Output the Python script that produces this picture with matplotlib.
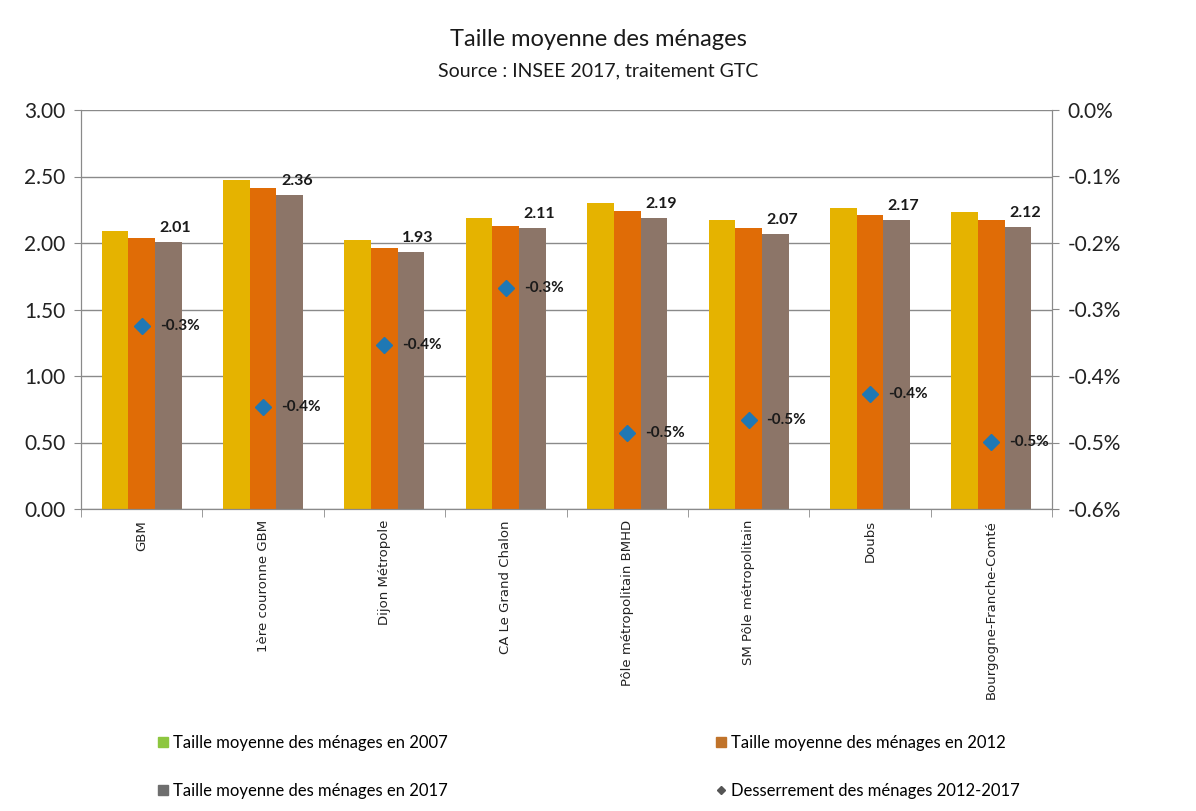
import matplotlib
matplotlib.use("Agg")
import matplotlib.pyplot as plt
from matplotlib.lines import Line2D
from matplotlib import font_manager
import numpy as np

categories = ["GBM", "1ère couronne GBM", "Dijon Métropole", "CA Le Grand Chalon",
              "Pôle métropolitain BMHD", "SM Pôle métropolitain", "Doubs",
              "Bourgogne-Franche-Comté"]
taille_2007 = [2.09, 2.47, 2.02, 2.19, 2.30, 2.17, 2.26, 2.23]
taille_2012 = [2.04, 2.41, 1.96, 2.13, 2.24, 2.11, 2.21, 2.17]
taille_2017 = [2.01, 2.36, 1.93, 2.11, 2.19, 2.07, 2.17, 2.12]
desserrement = [-0.325, -0.447, -0.353, -0.268, -0.486, -0.466, -0.427, -0.499]  # in %

left_ticks = [0.0, 0.5, 1.0, 1.5, 2.0, 2.5, 3.0]
right_ticks = [0.0, -0.1, -0.2, -0.3, -0.4, -0.5, -0.6]

names = {f.name for f in font_manager.fontManager.ttflist}
main_font = "Lato" if "Lato" in names else "DejaVu Sans"
narrow_font = "Liberation Sans Narrow" if "Liberation Sans Narrow" in names else main_font

c2007 = "#E5B300"
c2012 = "#E06C06"
c2017 = "#8C7568"
cdiam = "#1F78B4"
grid_c = "#8A8A8A"

fig = plt.figure(figsize=(11.96, 8.11), dpi=100)
ax = fig.add_axes([81/1196, 1 - 509/811, (1052 - 81)/1196, (509 - 110)/811])

x = np.arange(len(categories))
w = 0.22
ax.bar(x - w, taille_2007, width=w, color=c2007, zorder=2)
ax.bar(x, taille_2012, width=w, color=c2012, zorder=2)
ax.bar(x + w, taille_2017, width=w, color=c2017, zorder=2)

for xi, v in zip(x, taille_2017):
    ax.annotate(f"{v:.2f}", (xi + w, v), xytext=(5, 5), textcoords="offset points",
                ha="center", va="bottom", fontsize=11.5, fontweight="bold",
                family=main_font, color="#1a1a1a", zorder=5)

ax.set_xlim(-0.5, len(categories) - 0.5)
ax.set_ylim(0, 3.0)
ax.set_yticks(left_ticks)
ax.set_yticklabels([f"{t:.2f}" for t in left_ticks], fontsize=15, family=main_font, color="#222222")
ax.yaxis.grid(True, color=grid_c, linewidth=1.0, zorder=0)
ax.set_axisbelow(True)
ax.set_xticks(x)
ax.set_xticklabels(categories, rotation=90, fontsize=9.5, family="DejaVu Sans", color="#222222")
ax.tick_params(axis="x", which="major", length=0, pad=8)
ax.set_xticks(np.arange(-0.5, len(categories), 1.0), minor=True)
ax.tick_params(axis="x", which="minor", length=6, color=grid_c, direction="out")
ax.tick_params(axis="y", length=5, color=grid_c, pad=6)
for s in ["left", "bottom", "right"]:
    ax.spines[s].set_color(grid_c)
ax.spines["top"].set_visible(False)

ax2 = ax.twinx()
ax2.set_ylim(-0.6, 0.0)
ax2.set_yticks(right_ticks)
ax2.set_yticklabels([f"{t:.1f}%" for t in right_ticks], fontsize=15, family=main_font, color="#222222")
ax2.tick_params(axis="y", length=5, color=grid_c, pad=6)
for s in ["left", "bottom", "right"]:
    ax2.spines[s].set_color(grid_c)
ax2.spines["top"].set_visible(False)
ax2.plot(x, desserrement, linestyle="none", marker="D", markersize=8.5, color=cdiam, zorder=4)
for xi, v in zip(x, desserrement):
    ax2.annotate(f"{v:.1f}%", (xi, v), xytext=(13, 0), textcoords="offset points",
                 ha="left", va="center", fontsize=11, fontweight="bold",
                 family=main_font, color="#1a1a1a", zorder=5)

fig.text(0.5, 1 - 40/811, "Taille moyenne des ménages", ha="center", va="center",
         fontsize=17, family=main_font, color="#1a1a1a")
fig.text(0.5, 1 - 71/811, "Source : INSEE 2017, traitement GTC", ha="center", va="center",
         fontsize=14, family=main_font, color="#1a1a1a")

h2007 = Line2D([], [], linestyle="none", marker="s", markersize=7, color="#8DC63F")
h2012 = Line2D([], [], linestyle="none", marker="s", markersize=7, color="#C0732A")
h2017 = Line2D([], [], linestyle="none", marker="s", markersize=7, color="#6E6E6E")
hdiam = Line2D([], [], linestyle="none", marker="D", markersize=4, color="#555555")

lp = dict(frameon=False, handlelength=0.6, handletextpad=0.3,
          labelspacing=1.9, borderaxespad=0, borderpad=0,
          prop={"family": narrow_font, "size": 12})
fig.legend([h2007, h2017], ["Taille moyenne des ménages en 2007",
                            "Taille moyenne des ménages en 2017"],
           loc="upper left", bbox_to_anchor=(158/1196, 1 - 735/811), **lp)
fig.legend([h2012, hdiam], ["Taille moyenne des ménages en 2012",
                            "Desserrement des ménages 2012-2017"],
           loc="upper left", bbox_to_anchor=(716/1196, 1 - 735/811), **lp)

fig.savefig("out.png", dpi=100)
